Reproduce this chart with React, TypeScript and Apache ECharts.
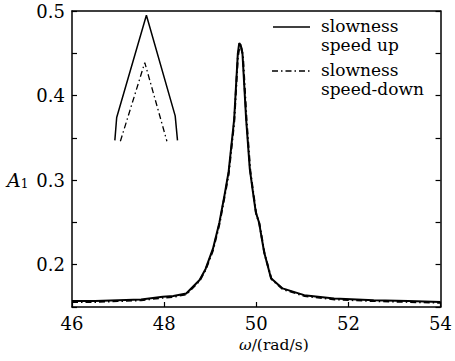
import React, { useEffect, useRef } from "react";
import * as echarts from "echarts";

// Speed-up sweep (solid)
const upX = [46, 46.5, 47, 47.5, 47.97, 48.2, 48.48, 48.77, 48.9, 49.06, 49.2, 49.31, 49.4, 49.52, 49.6, 49.63, 49.66, 49.7, 49.78, 49.86, 49.93, 49.99, 50.06, 50.17, 50.32, 50.57, 51.04, 51.69, 52.55, 53.3, 54];
const upY = [0.157, 0.157, 0.158, 0.159, 0.162, 0.163, 0.166, 0.182, 0.195, 0.219, 0.25, 0.282, 0.31, 0.372, 0.45, 0.462, 0.46, 0.45, 0.372, 0.313, 0.285, 0.262, 0.25, 0.215, 0.184, 0.172, 0.164, 0.16, 0.158, 0.157, 0.156];
// Speed-down sweep (dash-dot)
const downX = [46, 46.5, 47, 47.5, 47.97, 48.2, 48.48, 48.77, 48.9, 49.06, 49.2, 49.31, 49.4, 49.52, 49.6, 49.64, 49.67, 49.71, 49.79, 49.87, 49.94, 50.0, 50.07, 50.18, 50.33, 50.58, 51.05, 51.7, 52.56, 53.3, 54];
const downY = [0.156, 0.156, 0.157, 0.158, 0.161, 0.162, 0.165, 0.181, 0.194, 0.217, 0.248, 0.28, 0.307, 0.368, 0.445, 0.46, 0.458, 0.447, 0.37, 0.311, 0.283, 0.26, 0.248, 0.213, 0.183, 0.171, 0.163, 0.159, 0.157, 0.156, 0.155];
// Inset (peak detail) traces
const insetUpX = [46.93, 46.97, 47.615, 48.24, 48.29];
const insetUpY = [0.347, 0.374, 0.495, 0.376, 0.347];
const insetDownX = [47.05, 47.58, 48.06];
const insetDownY = [0.346, 0.439, 0.346];

const xTicks = [46, 48, 50, 52, 54];
const yLabels = [0.2, 0.3, 0.4, 0.5];
const legendNames = ["slowness\nspeed up", "slowness\nspeed-down"];

const FONT = "DejaVu Serif";
const BLACK = "#000";

function pairs(xs: number[], ys: number[]) {
  return xs.map((x, i) => [x, ys[i]]);
}

export default function App() {
  const ref = useRef<HTMLDivElement>(null);
  useEffect(() => {
    if (!ref.current) return;
    const chart = echarts.init(ref.current, null, { renderer: "svg" });
    const dashDot = [6, 3, 1.5, 3];
    chart.setOption({
      animation: false,
      backgroundColor: "#fff",
      textStyle: { fontFamily: FONT },
      grid: { left: 72, top: 11, right: 13, bottom: 54, containLabel: false },
      xAxis: [
        {
          type: "value",
          min: xTicks[0],
          max: xTicks[xTicks.length - 1],
          interval: 2,
          axisLine: { show: true, onZero: false, lineStyle: { color: BLACK, width: 1.5 } },
          axisTick: { show: true, inside: true, length: 5, lineStyle: { color: BLACK, width: 1.2 } },
          axisLabel: { color: BLACK, fontFamily: FONT, fontSize: 18, margin: 7 },
          splitLine: { show: false },
        },
        {
          type: "value",
          position: "top",
          min: xTicks[0],
          max: xTicks[xTicks.length - 1],
          axisLine: { show: true, onZero: false, lineStyle: { color: BLACK, width: 1.5 } },
          axisTick: { show: false },
          axisLabel: { show: false },
          splitLine: { show: false },
        },
      ],
      yAxis: [
        {
          type: "value",
          min: 0.15,
          max: 0.5,
          interval: 0.05,
          axisLine: { show: true, onZero: false, lineStyle: { color: BLACK, width: 1.5 } },
          axisTick: { show: true, inside: true, length: 5, lineStyle: { color: BLACK, width: 1.2 } },
          axisLabel: {
            color: BLACK,
            fontFamily: FONT,
            fontSize: 18,
            margin: 7,
            formatter: (v: number) => {
              const m = yLabels.find((l) => Math.abs(l - v) < 1e-6);
              return m !== undefined ? m.toFixed(1) : "";
            },
          },
          splitLine: { show: false },
        },
        {
          type: "value",
          position: "right",
          min: 0.15,
          max: 0.5,
          interval: 0.05,
          axisLine: { show: true, onZero: false, lineStyle: { color: BLACK, width: 1.5 } },
          axisTick: { show: true, inside: true, length: 5, lineStyle: { color: BLACK, width: 1.2 } },
          axisLabel: { show: false },
          splitLine: { show: false },
        },
      ],
      series: [
        {
          name: legendNames[0],
          type: "line",
          data: pairs(upX, upY),
          showSymbol: false,
          symbol: "none",
          lineStyle: { color: BLACK, width: 2 },
        },
        {
          name: legendNames[1],
          type: "line",
          data: pairs(downX, downY),
          showSymbol: false,
          symbol: "none",
          lineStyle: { color: BLACK, width: 2, type: dashDot },
        },
        {
          name: "inset-up",
          type: "line",
          data: pairs(insetUpX, insetUpY),
          showSymbol: false,
          symbol: "none",
          lineStyle: { color: BLACK, width: 1.5 },
        },
        {
          name: "inset-down",
          type: "line",
          data: pairs(insetDownX, insetDownY),
          showSymbol: false,
          symbol: "none",
          lineStyle: { color: BLACK, width: 1.3, type: dashDot },
        },
      ],
      graphic: [
        {
          type: "line",
          shape: { x1: 273, y1: 27, x2: 310, y2: 27 },
          style: { stroke: BLACK, lineWidth: 1.5 },
        },
        {
          type: "text",
          x: 321,
          y: 16,
          style: {
            text: legendNames[0],
            font: "17px 'DejaVu Serif'",
            fill: BLACK,
            lineHeight: 19,
            verticalAlign: "top",
          },
        },
        {
          type: "line",
          shape: { x1: 272, y1: 71, x2: 310, y2: 71 },
          style: { stroke: BLACK, lineWidth: 1.5, lineDash: dashDot },
        },
        {
          type: "text",
          x: 321,
          y: 60,
          style: {
            text: legendNames[1],
            font: "17px 'DejaVu Serif'",
            fill: BLACK,
            lineHeight: 19,
            verticalAlign: "top",
          },
        },
        {
          type: "text",
          x: 7,
          y: 180,
          style: {
            text: "{a|A}{s|1}",
            fill: BLACK,
            verticalAlign: "middle",
            rich: {
              a: { fontFamily: FONT, fontSize: 19, fontStyle: "italic", fill: BLACK },
              s: { fontFamily: FONT, fontSize: 12, fill: BLACK, padding: [8, 0, 0, 0] },
            },
          },
        },
        {
          type: "text",
          x: 239,
          y: 345,
          style: {
            text: "{w|ω}{r|/(rad/s)}",
            fill: BLACK,
            verticalAlign: "middle",
            rich: {
              w: { fontFamily: FONT, fontSize: 15.5, fontStyle: "italic", fill: BLACK },
              r: { fontFamily: FONT, fontSize: 15.5, fill: BLACK },
            },
          },
        },
      ],
    });
    return () => chart.dispose();
  }, []);
  return (
    <div
      ref={ref}
      style={{ position: "fixed", left: 0, top: 0, width: 455, height: 361, background: "#fff" }}
    />
  );
}
